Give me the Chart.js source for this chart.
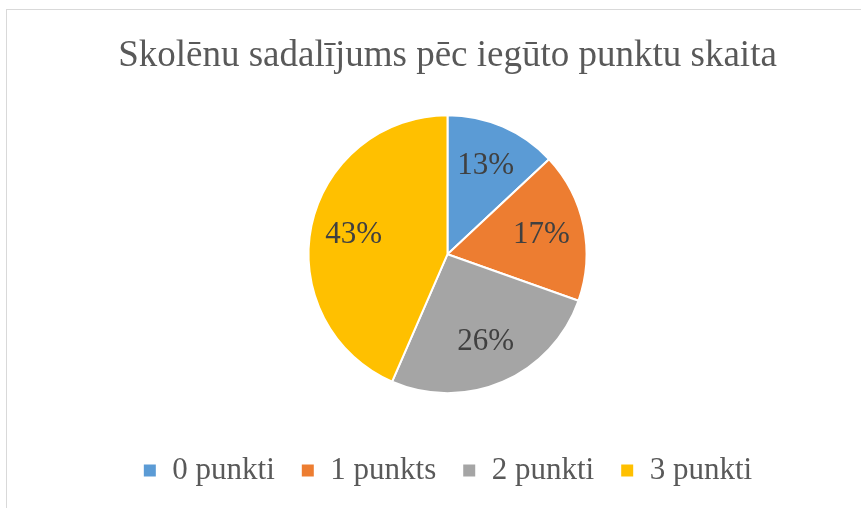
<!DOCTYPE html>
<html>
<head>
<meta charset="utf-8">
<script src="https://cdn.jsdelivr.net/npm/chart.js@4.4.1/dist/chart.umd.min.js"></script>
<style>
    html, body {
        margin: 0;
        padding: 0;
        background: #ffffff;
        overflow: hidden;
    }
    #frame {
        position: absolute;
        left: 6px;
        top: 9px;
        width: 900px;
        height: 520px;
        border-left: 1px solid #d9d9d9;
        border-top: 1px solid #d9d9d9;
    }
    #pieChart {
        position: absolute;
        left: 0;
        top: 0;
    }
</style>
</head>
<body>
<div id="frame">
    <canvas id="pieChart" width="881" height="498"></canvas>
</div>
<script>
const chartTitle = "Skolēnu sadalījums pēc iegūto punktu skaita";
const categories = ["0 punkti", "1 punkts", "2 punkti", "3 punkti"];
const studentCounts = [3, 4, 6, 10];
const sliceColors = ["#5B9BD5", "#ED7D31", "#A5A5A5", "#FFC000"];

const serif = "'Liberation Serif', 'Times New Roman', serif";

// percent labels inside each slice, like Excel's data labels
const percentLabels = {
    id: "percentLabels",
    afterDatasetsDraw(chart) {
        const ctx = chart.ctx;
        const meta = chart.getDatasetMeta(0);
        const values = chart.data.datasets[0].data;
        const total = values.reduce((a, b) => a + b, 0);

        ctx.save();
        ctx.font = "31px " + serif;
        ctx.fillStyle = "#404040";
        ctx.textAlign = "center";
        ctx.textBaseline = "middle";
        meta.data.forEach((arc, i) => {
            const mid = (arc.startAngle + arc.endAngle) / 2;
            const r = arc.outerRadius * 0.69;
            const x = arc.x + Math.cos(mid) * r;
            const y = arc.y + Math.sin(mid) * r;
            ctx.fillText(Math.round(values[i] / total * 100) + "%", x, y);
        });
        ctx.restore();
    }
};

const pieChart = new Chart(document.getElementById("pieChart"), {
    type: "pie",
    data: {
        labels: categories,
        datasets: [{
            data: studentCounts,
            backgroundColor: sliceColors,
            borderColor: "#ffffff",
            borderWidth: 2
        }]
    },
    options: {
        responsive: false,
        animation: false,
        devicePixelRatio: 1,
        radius: 139,
        layout: {
            padding: { bottom: 12 }
        },
        plugins: {
            title: {
                display: true,
                text: chartTitle,
                color: "#595959",
                font: { family: serif, size: 37, weight: "normal" },
                padding: { top: 24, bottom: 1 }
            },
            legend: {
                position: "bottom",
                labels: {
                    color: "#595959",
                    font: { family: serif, size: 31 },
                    boxWidth: 14,
                    boxHeight: 14,
                    padding: 26
                }
            },
            tooltip: { enabled: false }
        }
    },
    plugins: [percentLabels]
});
</script>
</body>
</html>
